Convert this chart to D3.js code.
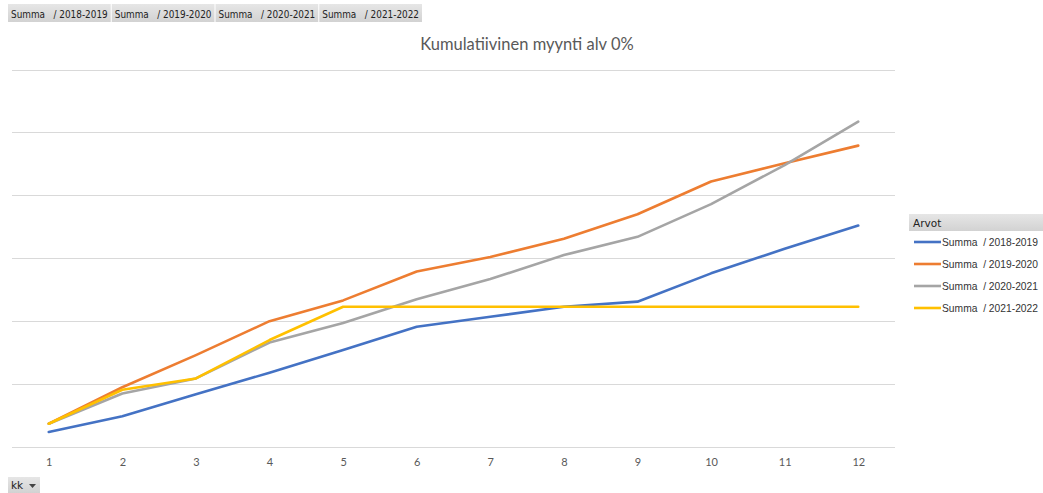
<!DOCTYPE html>
<html>
<head>
<meta charset="utf-8">
<script src="https://cdn.jsdelivr.net/npm/d3@7"></script>
<style>
  html, body { margin: 0; padding: 0; background: #fff; }
  svg { display: block; }
  svg text { white-space: pre; }
</style>
</head>
<body>
<svg id="chart" width="1043" height="493"></svg>
<script>
// ---- data ----
const months = ["1","2","3","4","5","6","7","8","9","10","11","12"];
const seriesNames = ["Summa  / 2018-2019", "Summa  / 2019-2020", "Summa  / 2020-2021", "Summa  / 2021-2022"];
const s2018 = [0.24, 0.49, 0.84, 1.18, 1.54, 1.91, 2.07, 2.23, 2.31, 2.76, 3.15, 3.52];
const s2019 = [0.37, 0.95, 1.46, 2.00, 2.33, 2.79, 3.02, 3.31, 3.70, 4.22, 4.51, 4.79];
const s2020 = [0.37, 0.85, 1.09, 1.66, 1.97, 2.35, 2.67, 3.05, 3.34, 3.86, 4.48, 5.17];
const s2021 = [0.37, 0.91, 1.09, 1.70, 2.23, 2.23, 2.23, 2.23, 2.23, 2.23, 2.23, 2.23];
const yTicks = [0, 1, 2, 3, 4, 5, 6];
const colors = ["#4472C4", "#ED7D31", "#A5A5A5", "#FFC000"];
const allSeries = [s2018, s2019, s2020, s2021];

const svg = d3.select("#chart");
const fontUI = "Tahoma, 'DejaVu Sans', sans-serif";
const fontLegend = "'Liberation Sans', Arial, sans-serif";
const fontChart = "Lato, 'Open Sans', sans-serif";

// gradient for buttons
const defs = svg.append("defs");
const g1 = defs.append("linearGradient").attr("id", "btn").attr("x1", 0).attr("y1", 0).attr("x2", 0).attr("y2", 1);
g1.append("stop").attr("offset", "0%").attr("stop-color", "#e6e6e6");
g1.append("stop").attr("offset", "100%").attr("stop-color", "#d2d2d2");

// ---- top field buttons ----
const btnX = d3.scaleBand().domain(seriesNames).range([8, 422]).paddingInner(0.01);
const btns = svg.append("g").selectAll("g").data(seriesNames).join("g")
  .attr("transform", d => `translate(${btnX(d)},4)`);
btns.append("rect").attr("width", btnX.bandwidth()).attr("height", 18).attr("fill", "url(#btn)");
btns.append("text").attr("x", 3).attr("y", 13.5)
  .attr("font-family", fontUI).attr("font-size", 10.5).attr("fill", "#222")
  .attr("textLength", btnX.bandwidth() - 6).attr("lengthAdjust", "spacingAndGlyphs")
  .text(d => d.replace("Summa  /", "Summa   /"));

// ---- title ----
svg.append("text").attr("x", 527).attr("y", 50).attr("text-anchor", "middle")
  .attr("font-family", fontChart).attr("font-size", 16.5).attr("fill", "#595959")
  .text("Kumulatiivinen myynti alv 0%");

// ---- scales ----
const x = d3.scalePoint().domain(months).range([48.75, 858.25]);
const y = d3.scaleLinear().domain([0, 6]).range([447, 69.5]);

// gridlines
svg.append("g").selectAll("line").data(yTicks).join("line")
  .attr("x1", 12).attr("x2", 895)
  .attr("y1", d => Math.round(y(d)) + 0.5).attr("y2", d => Math.round(y(d)) + 0.5)
  .attr("stroke", "#d9d9d9").attr("stroke-width", 1);

// x axis labels
const xAxis = d3.axisBottom(x).tickSize(0).tickPadding(0);
const xg = svg.append("g").attr("transform", "translate(0,462)").call(xAxis);
xg.select(".domain").remove();
xg.selectAll("text").attr("font-family", fontChart).attr("font-size", 11).attr("fill", "#595959").attr("dy", "0.32em");

// lines
const line = d3.line().x((d, i) => x(months[i])).y(d => y(d));
svg.append("g").selectAll("path").data(allSeries).join("path")
  .attr("d", line).attr("fill", "none")
  .attr("stroke", (d, i) => colors[i]).attr("stroke-width", 2.6)
  .attr("stroke-linejoin", "round").attr("stroke-linecap", "round");

// ---- legend ----
const lg = svg.append("g").attr("transform", "translate(909,214)");
lg.append("rect").attr("width", 134).attr("height", 17).attr("fill", "url(#btn)");
lg.append("text").attr("x", 4).attr("y", 13).attr("font-family", fontUI).attr("font-size", 10.5)
  .attr("fill", "#222").text("Arvot");
const items = lg.selectAll("g.item").data(seriesNames).join("g").attr("class", "item")
  .attr("transform", (d, i) => `translate(0,${28 + i * 22})`);
items.append("line").attr("x1", 5).attr("x2", 32).attr("y1", 0).attr("y2", 0)
  .attr("stroke", (d, i) => colors[i]).attr("stroke-width", 2.6);
items.append("text").attr("x", 33).attr("y", 4).attr("font-family", fontLegend).attr("font-size", 10.5)
  .attr("fill", "#333").attr("textLength", 96).attr("lengthAdjust", "spacingAndGlyphs").text(d => d);

// ---- kk button ----
const kk = svg.append("g").attr("transform", "translate(8,477)");
kk.append("rect").attr("width", 32).attr("height", 16).attr("fill", "url(#btn)");
kk.append("text").attr("x", 3).attr("y", 12).attr("font-family", fontUI).attr("font-size", 10.5)
  .attr("fill", "#222").text("kk");
kk.append("path").attr("d", "M21,7 L28,7 L24.5,11 Z").attr("fill", "#444");
</script>
</body>
</html>
